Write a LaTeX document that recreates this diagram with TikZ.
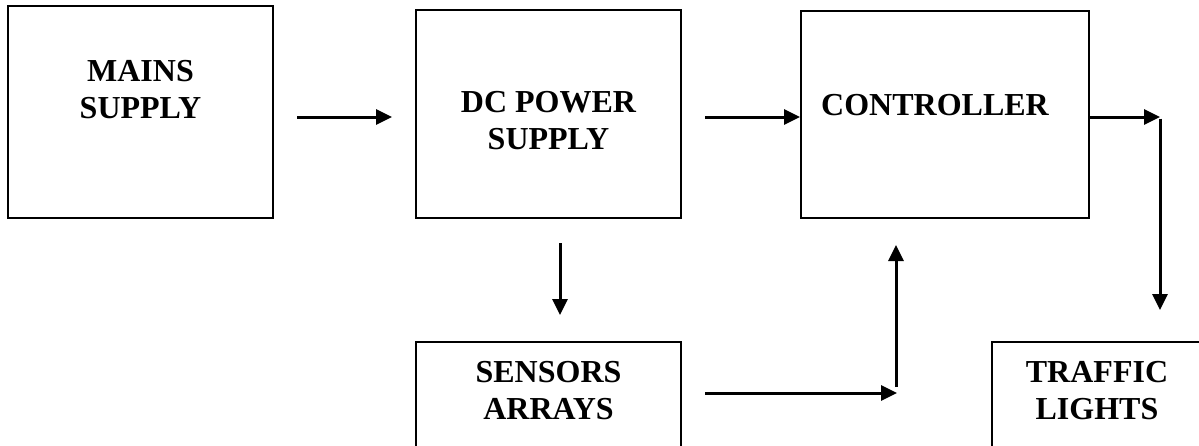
\documentclass[tikz,border=0pt]{standalone}
\usepackage{fontspec}
\setmainfont{Liberation Serif}
\usetikzlibrary{arrows.meta}
\begin{document}
\begin{tikzpicture}[x=1pt,y=-1pt,
  blockbox/.style={draw,line width=2pt,inner sep=0pt,minimum width=#1},
  lbl/.style={font=\fontsize{32}{37}\selectfont\bfseries,align=center,inner sep=0pt,anchor=north},
  conn/.style={line width=3pt,-{Triangle[length=16pt,width=15pt]}}]
\useasboundingbox (0,0) rectangle (1199,445);
\clip (0,0) rectangle (1199,445);
% boxes
\node[blockbox=265pt,minimum height=212pt] (mains) at (140.5,112) {};
\node[blockbox=265pt,minimum height=208pt] (dc) at (548.5,114) {};
\node[blockbox=288pt,minimum height=207pt] (ctrl) at (945,114.5) {};
\node[blockbox=265pt,minimum height=128pt] (sens) at (548.5,406) {};
\node[blockbox=228pt,minimum height=128pt] (traffic) at (1106,406) {};
% labels
\node[lbl] (tmains) at (140.5,60) {MAINS\\SUPPLY};
\node[lbl] (tdc) at (548.5,91) {DC POWER\\SUPPLY};
\node[lbl] (tctrl) at (935,94) {CONTROLLER};
\node[lbl] (tsens) at (548.5,361) {SENSORS\\ARRAYS};
\node[lbl] (ttraffic) at (1097,361) {TRAFFIC\\LIGHTS};
% connector points
\coordinate (a1s) at (297,117);
\coordinate (a1e) at (392,117);
\coordinate (a2s) at (705,117);
\coordinate (a3c) at (1160,117);
\coordinate (a3e) at (1160,310);
\coordinate (a4s) at (560,243);
\coordinate (a4e) at (560,315);
\coordinate (a5s) at (705,393);
\coordinate (a5e) at (897,393);
\coordinate (a6s) at (896,387);
\coordinate (a6e) at (896,245);
% connectors
\draw[conn] (a1s) -- (a1e);
\draw[conn] (a2s) -- (a2s -| ctrl.west);
\draw[conn] (a3c -| ctrl.east) -- (a3c);
\draw[conn] ([yshift=-1.5pt]a3c) -- (a3e);
\draw[conn] (a4s) -- (a4e);
\draw[conn] (a5s) -- (a5e);
\draw[conn] (a6s) -- (a6e);
\end{tikzpicture}
\end{document}
